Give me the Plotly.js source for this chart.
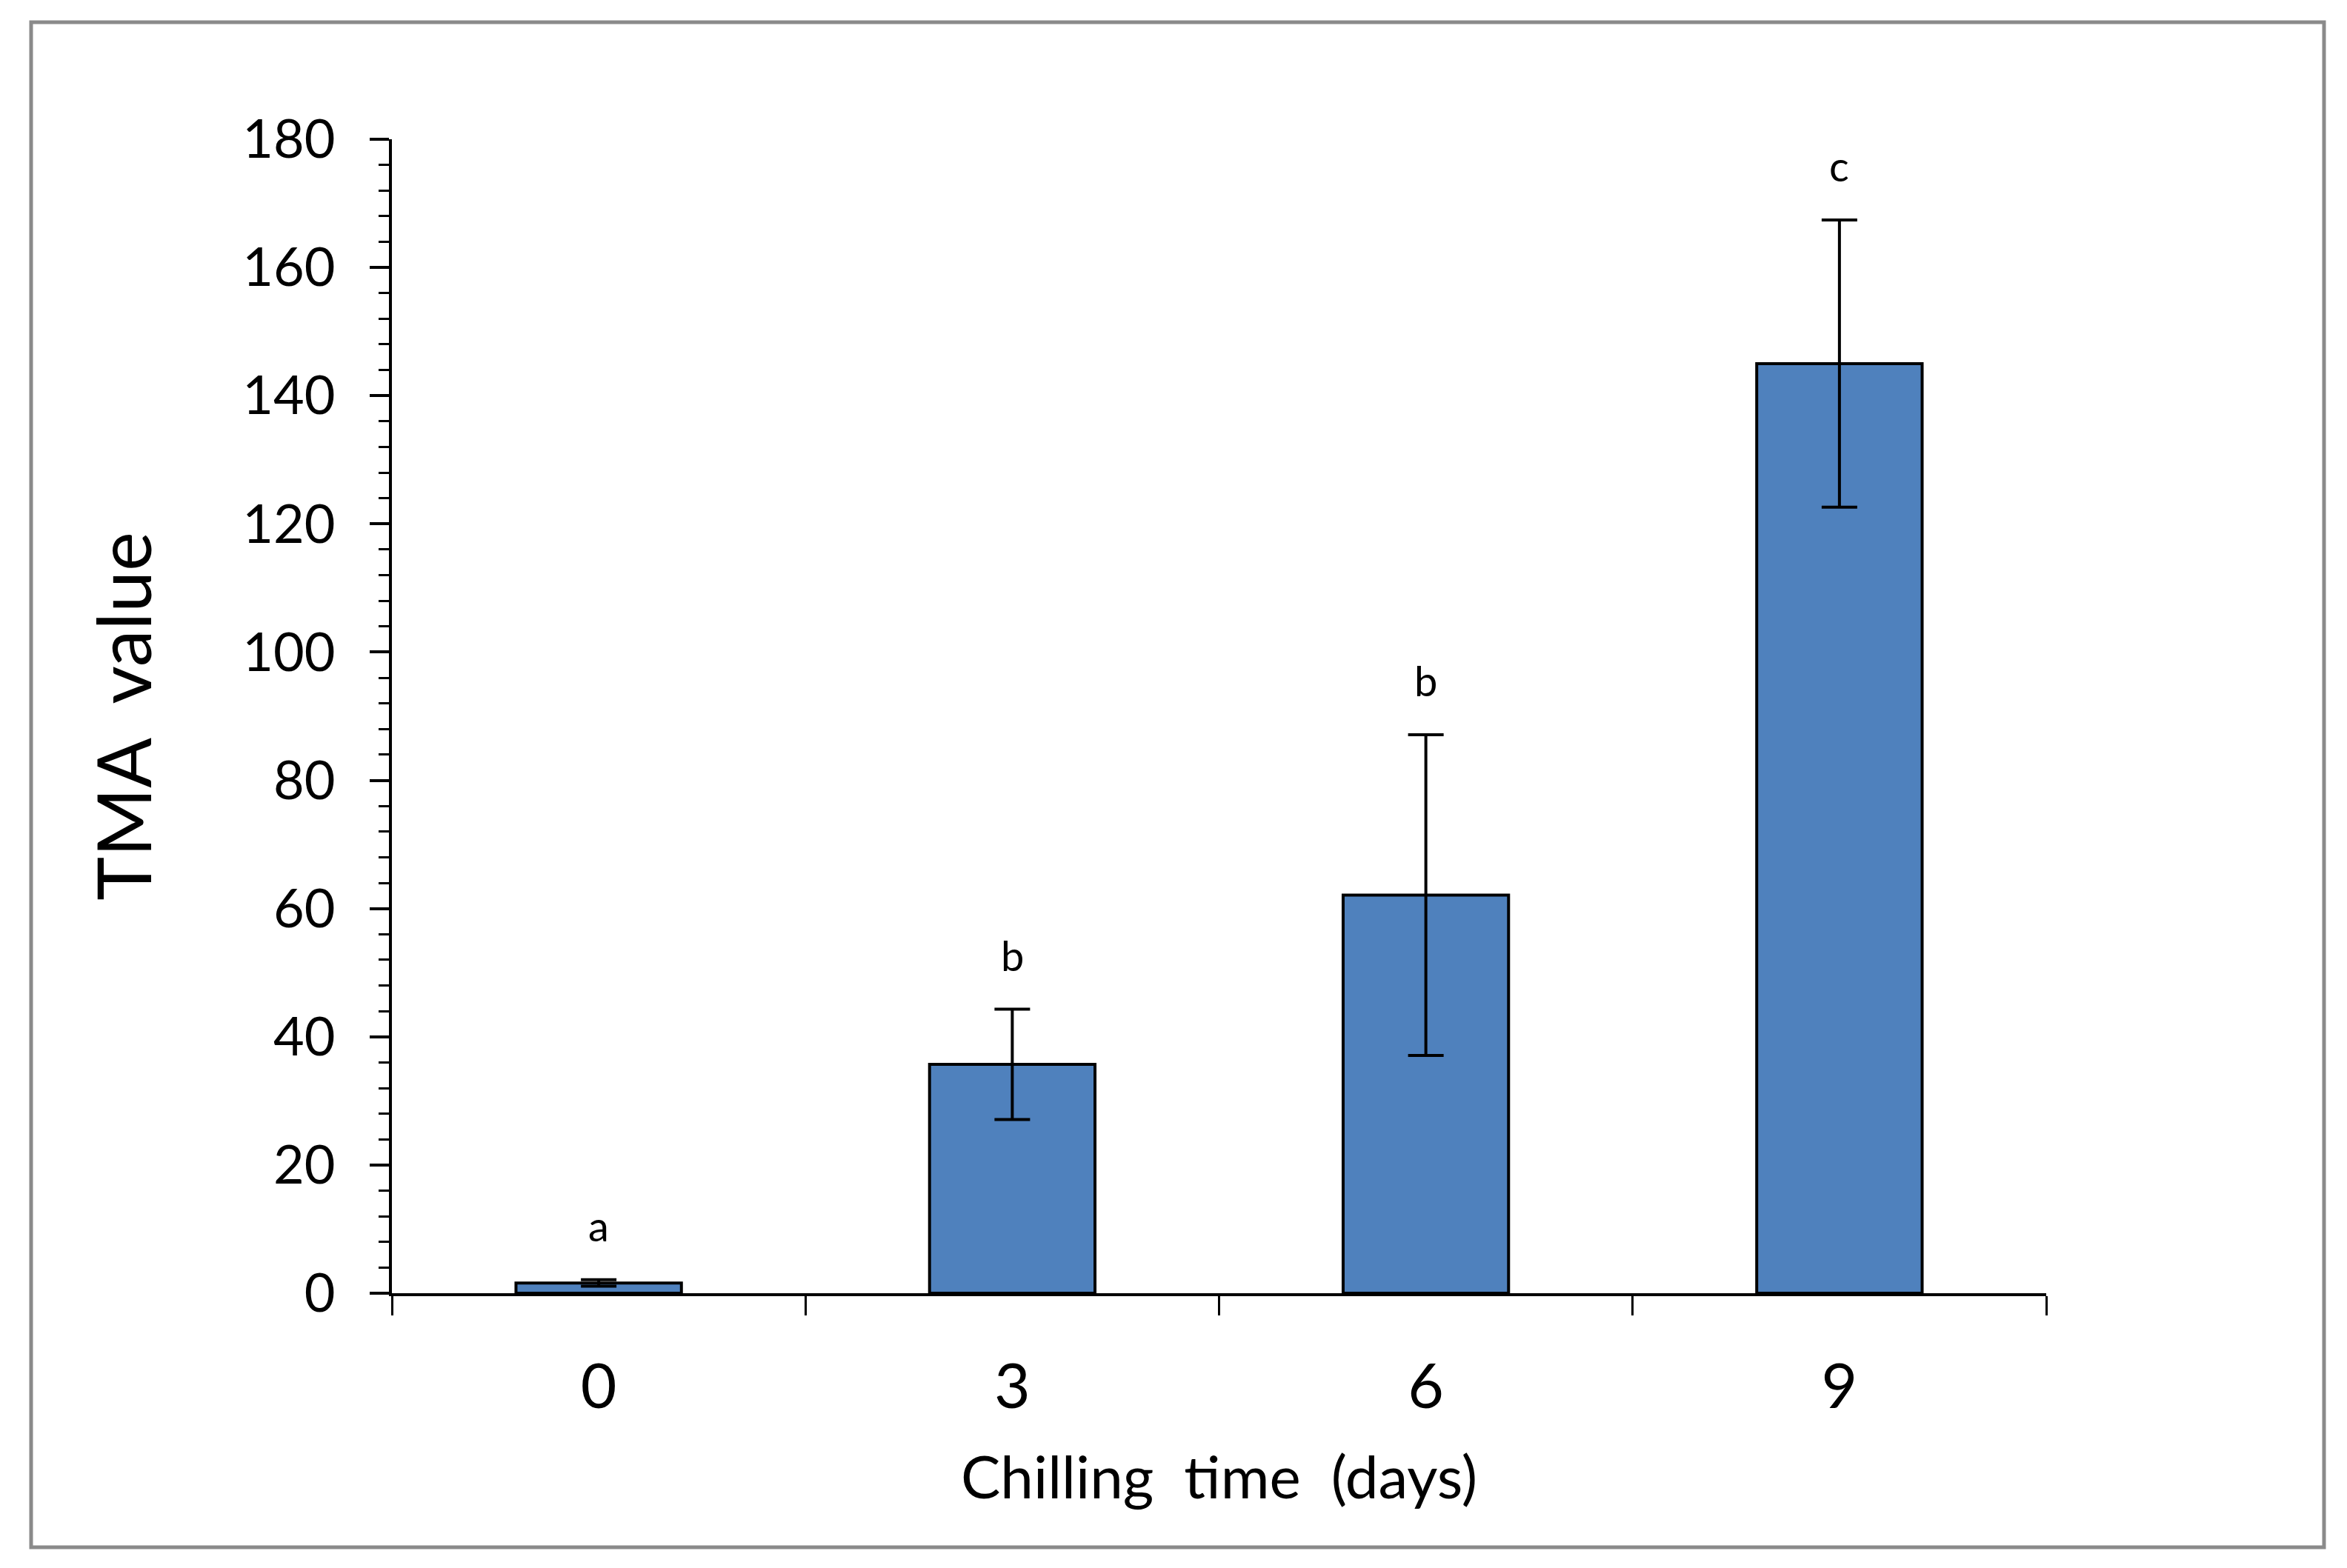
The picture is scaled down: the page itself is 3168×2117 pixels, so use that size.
<!DOCTYPE html>
<html><head><meta charset="utf-8">
<script src="https://cdn.plot.ly/plotly-3.0.1.min.js"></script>
<style>html,body{margin:0;padding:0;background:#fff}#chart{width:3168px;height:2117px}</style>
</head><body><div id="chart"></div>
<script>
// ---- data ----
const categories = ['0', '3', '6', '9'];
const tmaValues = [1.6, 35.7, 62.1, 145.0];
const tmaErrors = [0.5, 8.6, 25.0, 22.4];
const groupLetters = ['a', 'b', 'b', 'c'];
const yTickValues = [0, 20, 40, 60, 80, 100, 120, 140, 160, 180];
const yTickLabels = ['0', '20', '40', '60', '80', '100', '120', '140', '160', '180'];
const xTitle = 'Chilling\u00a0 time\u00a0 (days)';
const yTitle = 'TMA\u00a0 value';

// ---- layout geometry ----
const W = 3168, H = 2117;
const L = 529, R = 406, T = 188, B = 371;
const pw = W - L - R, ph = H - T - B;
const px = x => (x - L) / pw;
const py = y => (H - B - y) / ph;
const FONT = 'Lato, "Open Sans", sans-serif';

const trace = {
  type: 'bar',
  x: categories,
  y: tmaValues,
  marker: { color: '#4F81BD', line: { color: '#000000', width: 4 } },
  error_y: { type: 'data', array: tmaErrors, visible: true, color: '#000000', thickness: 4, width: 24 },
  hoverinfo: 'skip'
};

// category axis: annotations are positioned by category index
const annotations = categories.map((c, i) => ({
  x: i, y: tmaValues[i] + tmaErrors[i], xref: 'x', yref: 'y',
  text: groupLetters[i], showarrow: false, yanchor: 'bottom', yshift: 38,
  font: { family: FONT, size: 56, color: '#000' }
}));

const layout = {
  width: W, height: H,
  margin: { l: L, r: R, t: T, b: B, pad: 0 },
  paper_bgcolor: '#ffffff', plot_bgcolor: '#ffffff',
  showlegend: false,
  bargap: 0.6,
  font: { family: FONT, color: '#000' },
  xaxis: {
    type: 'category',
    range: [-0.5, 3.5],
    showline: true, linecolor: '#000', linewidth: 4,
    ticks: 'outside', tickson: 'boundaries', ticklen: 26, tickwidth: 3, tickcolor: '#000',
    showgrid: false, zeroline: false,
    tickfont: { family: FONT, size: 84, color: '#000' },
    ticklabelstandoff: 50,
    title: { text: xTitle, font: { family: FONT, size: 80, color: '#000' }, standoff: 50 },
    automargin: false
  },
  yaxis: {
    range: [0, 180],
    tickmode: 'array', tickvals: yTickValues, ticktext: yTickLabels,
    showline: true, linecolor: '#000', linewidth: 4,
    ticks: 'outside', ticklen: 26, tickwidth: 4, tickcolor: '#000',
    minor: { dtick: 4, ticks: 'outside', ticklen: 14, tickwidth: 3, tickcolor: '#000', showgrid: false },
    showgrid: false, zeroline: false,
    tickfont: { family: FONT, size: 72, color: '#000' },
    ticklabelstandoff: 32,
    title: { text: yTitle, font: { family: FONT, size: 100, color: '#000' }, standoff: 90 },
    automargin: false
  },
  annotations: annotations,
  shapes: [{
    type: 'rect', xref: 'paper', yref: 'paper', layer: 'below',
    x0: px(42), x1: px(3137), y0: py(2089), y1: py(30),
    line: { color: '#8a8a8a', width: 5 }, fillcolor: 'rgba(0,0,0,0)'
  }]
};

Plotly.newPlot('chart', [trace], layout, { displayModeBar: false, staticPlot: true });
</script>
</body></html>
